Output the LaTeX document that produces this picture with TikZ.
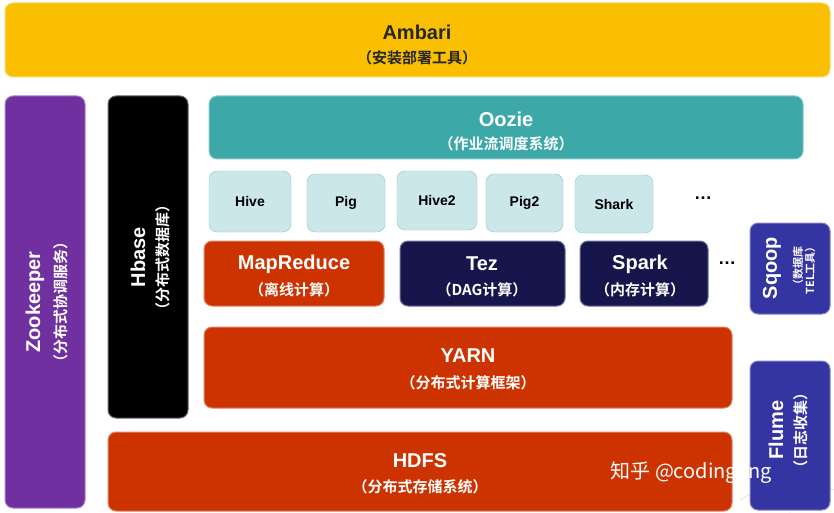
\documentclass[tikz,border=0pt]{standalone}
\usepackage{fontspec}
\setmainfont{Liberation Sans}
\newfontfamily\cjk{Noto Sans CJK SC Bold}
\newfontfamily\cjkr{Noto Sans CJK SC}
\begin{document}
\begin{tikzpicture}[x=1pt,y=-1pt,
  blk/.style={rounded corners=8pt,draw=#1!60!white,line width=1pt},
  t/.style={font=\bfseries\fontsize{20}{22}\selectfont},
  s/.style={font=\cjk\fontsize{15}{17}\selectfont},
  sm/.style={font=\bfseries\fontsize{14}{16}\selectfont}]
\definecolor{amb}{HTML}{F9BF00}
\definecolor{zoo}{HTML}{7030A0}
\definecolor{ooz}{HTML}{3CA8A8}
\definecolor{lt}{HTML}{CCE7E9}
\definecolor{red}{HTML}{CC3300}
\definecolor{navy}{HTML}{16164C}
\definecolor{blu}{HTML}{3434A2}
\useasboundingbox (0,0) rectangle (834,513);
\fill[white] (0,0) rectangle (834,513);
\draw[gray!40] (740,500)--(790,470)--(834,490) (790,470)--(790,513);
% Ambari
\filldraw[blk=amb,fill=amb] (5,3) rectangle (830,77);
\node[t,text=black!85] (amb) at (417,32) {Ambari};
\node[s,text=black!85] (ambs) at (417,58) {（安装部署工具）};
% Zookeeper
\filldraw[blk=zoo,fill=zoo] (5,96) rectangle (85,508);
\node[t,text=white,rotate=90] (zk) at (35,302) {Zookeeper};
\node[s,text=white,rotate=90] (zks) at (61,302) {（分布式协调服务）};
% Hbase
\filldraw[blk=black,fill=black] (108,96) rectangle (188,418);
\node[t,text=white,rotate=90] (hb) at (138,257) {Hbase};
\node[s,text=white,rotate=90] (hbs) at (163,257) {（分布式数据库）};
% Oozie
\filldraw[blk=ooz,fill=ooz] (209,96) rectangle (803,159);
\node[t,text=white] (oz) at (506,119) {Oozie};
\node[s,text=white] (ozs) at (506,144) {（作业流调度系统）};
% small
\foreach \a/\b/\c/\d/\n in {209/171/291/232/Hive,307/174/385/232/Pig,397/171/477/230/Hive2,486/174/563/232/Pig2,575/175/653/233/Shark}{
  \filldraw[rounded corners=8pt,draw=ooz!60,fill=lt] (\a,\b) rectangle (\c,\d);
  \node[sm] (n\n) at ({(\a+\c)/2},{(\b+\d)/2}) {\n};
}
\node[font=\bfseries\fontsize{18}{20}\selectfont] (d1) at (703,198) {…};
% engines
\filldraw[blk=red,fill=red] (204,241) rectangle (384,306);
\node[t,text=white] (mr) at (294,264) {MapReduce};
\node[s,text=white] (mrs) at (294,290) {（离线计算）};
\filldraw[blk=navy,fill=navy] (400,241) rectangle (565,306);
\node[t,text=white] (tez) at (482,264) {Tez};
\node[s,text=white] (tezs) at (482,290) {（DAG计算）};
\filldraw[blk=navy,fill=navy] (580,241) rectangle (708,306);
\node[t,text=white] (sp) at (640,264) {Spark};
\node[s,text=white] (sps) at (640,290) {（内存计算）};
\node[font=\bfseries\fontsize{18}{20}\selectfont] (d2) at (727,263) {…};
% YARN
\filldraw[blk=red,fill=red] (204,327) rectangle (732,408);
\node[t,text=white] (yarn) at (468,356) {YARN};
\node[s,text=white] (yarns) at (468,383) {（分布式计算框架）};
% HDFS
\filldraw[blk=red,fill=red] (108,432) rectangle (732,511);
\node[t,text=white] (hdfs) at (420,461) {HDFS};
\node[s,text=white] (hdfss) at (420,487) {（分布式存储系统）};
% Sqoop
\filldraw[blk=blu,fill=blu] (750,223) rectangle (830,314);
\node[t,text=white,rotate=90] (sq) at (772,268) {Sqoop};
\node[text=white,rotate=90,font=\cjk\fontsize{11}{12}\selectfont,align=center] (sqs) at (804,268) {（数据库\\TEL工具）};
% Flume
\filldraw[blk=blu,fill=blu] (750,361) rectangle (830,510);
\node[t,text=white,rotate=90] (fl) at (776,430) {Flume};
\node[s,text=white,rotate=90] (fls) at (801,430) {（日志收集）};
% watermark
\node[text=white,font=\cjkr\fontsize{20}{22}\selectfont,anchor=west] (wm) at (607,473) {知乎 @codingling};
\end{tikzpicture}
\end{document}
